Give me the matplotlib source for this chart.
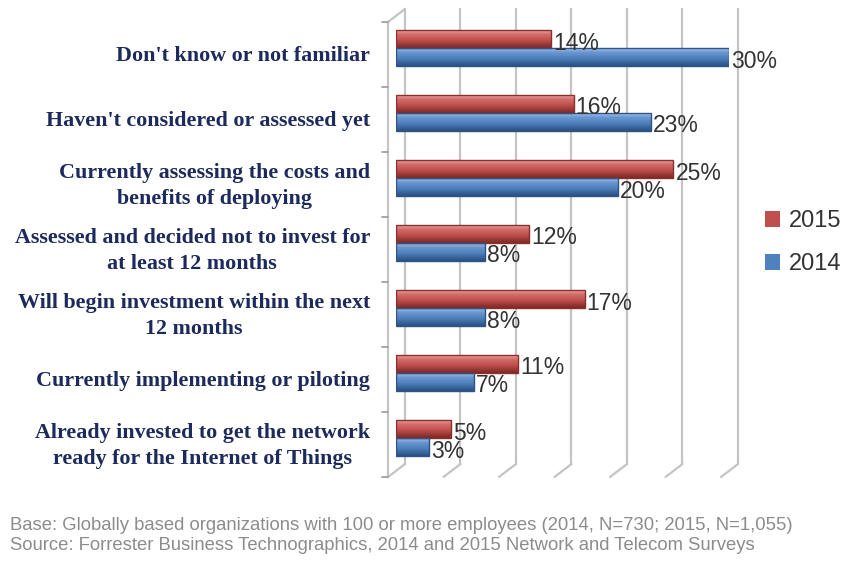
import matplotlib
matplotlib.use('Agg')
import matplotlib.pyplot as plt
import numpy as np
from matplotlib.transforms import ScaledTranslation
from matplotlib.patches import Patch
from matplotlib.colors import LinearSegmentedColormap

categories = [
    "Don't know or not familiar",
    "Haven't considered or assessed yet",
    "Currently assessing the costs and\nbenefits of deploying",
    "Assessed and decided not to invest for\nat least 12 months",
    "Will begin investment within the next\n12 months",
    "Currently implementing or piloting",
    "Already invested to get the network\nready for the Internet of Things",
]
values_2015 = [14, 16, 25, 12, 17, 11, 5]
values_2014 = [30, 23, 20, 8, 8, 7, 3]
series_labels = ["2015", "2014"]
grid_values = [0, 5, 10, 15, 20, 25, 30]
footer_lines = [
    "Base: Globally based organizations with 100 or more employees (2014, N=730; 2015, N=1,055)",
    "Source: Forrester Business Technographics, 2014 and 2015 Network and Telecom Surveys",
]

W, H, DPI = 845, 561, 100
fig = plt.figure(figsize=(W / DPI, H / DPI), dpi=DPI)
fig.patch.set_facecolor('white')

x0px, pxper, top_px, grp = 396, 11.1, 15.5, 65
ncat = len(categories)
ax = fig.add_axes([x0px / W, 1 - (top_px + ncat * grp) / H, 30 * pxper / W, ncat * grp / H])
ax.set_xlim(0, 30)
ax.set_ylim(ncat - 0.5, -0.5)
ax.axis('off')


def off(dx, dy):
    """offset in pixels; dy positive = downward"""
    return ax.transData + ScaledTranslation(dx / DPI, -dy / DPI, fig.dpi_scale_trans)


FRONT = (-8, 6.5)
BACK = (9, -6.5)
grid_col = '#c4c4c4'

# walls / gridlines
ylo, yhi = -0.5, ncat - 0.5
for v in grid_values:
    ax.plot([v, v], [ylo, yhi], color=grid_col, lw=1.6, transform=off(*BACK), clip_on=False, zorder=1)
    ax.annotate('', xy=(v, yhi), xycoords=off(*BACK), xytext=(v, yhi), textcoords=off(*FRONT),
                arrowprops=dict(arrowstyle='-', color=grid_col, lw=1.6, shrinkA=0, shrinkB=0), zorder=1)
ax.plot([0, 0], [ylo, yhi], color=grid_col, lw=1.6, transform=off(*FRONT), clip_on=False, zorder=1)
ax.annotate('', xy=(0, ylo), xycoords=off(*BACK), xytext=(0, ylo), textcoords=off(*FRONT),
            arrowprops=dict(arrowstyle='-', color=grid_col, lw=1.6, shrinkA=0, shrinkB=0), zorder=1)
for b in np.arange(ylo, yhi + 0.01, 1.0):
    ax.annotate('', xy=(0, b), xycoords=off(FRONT[0] - 6, FRONT[1]), xytext=(0, b), textcoords=off(*FRONT),
                arrowprops=dict(arrowstyle='-', color='#9a9a9a', lw=1.2, shrinkA=0, shrinkB=0))

# bars
y = np.arange(ncat)
h = 18 / grp
red, red_dark = '#c0504d', '#8a2f2c'
blue, blue_dark = '#4f81bd', '#2c5486'
cm_red = LinearSegmentedColormap.from_list('r', [(0, '#e9a7a5'), (0.22, '#d46e6b'), (0.55, '#c0504d'), (1, '#7d2825')])
cm_blue = LinearSegmentedColormap.from_list('b', [(0, '#aac5ea'), (0.22, '#6b98d2'), (0.55, '#4f81bd'), (1, '#2a5083')])

grad = np.linspace(0, 1, 64).reshape(-1, 1)
series = [(values_2015, y - h / 2, red, red_dark, cm_red), (values_2014, y + h / 2, blue, blue_dark, cm_blue)]
for vals, ys, col, dark, cm in series:
    bars = ax.barh(ys, vals, height=h, color=col, edgecolor='none', zorder=3)
    for p in bars.patches:
        bb = p.get_bbox()
        im = ax.imshow(grad, extent=(bb.x0, bb.x1, bb.y1, bb.y0), aspect='auto', cmap=cm,
                       origin='upper', zorder=4, interpolation='bilinear')
        im.set_clip_path(p)
    ax.barh(ys, vals, height=h, fill=False, edgecolor=dark, lw=1.0, zorder=5)
    for v, yy in zip(vals, ys):
        ax.text(v, yy, f"{v}%", transform=off(2, 4), ha='left', va='center',
                fontsize=16.5, family='Liberation Sans', color='#333333', zorder=6)

ax.set_xlim(0, 30)
ax.set_ylim(ncat - 0.5, -0.5)

# category labels
for i, lab in enumerate(categories):
    ax.text(0, i, lab, transform=off(-26, 8), ha='right', va='center', multialignment='center',
            fontsize=15.8, family='Liberation Serif', weight='bold', color='#1c2a5c', linespacing=1.35)

# legend
handles = [Patch(facecolor=red, edgecolor='none'), Patch(facecolor=blue, edgecolor='none')]
leg = fig.legend(handles, series_labels, loc='upper left', bbox_to_anchor=(765 / W, 1 - 210 / H),
                 frameon=False, prop={'family': 'Liberation Sans', 'size': 17},
                 handlelength=0.65, handleheight=0.65, handletextpad=0.35, labelspacing=0.9,
                 borderaxespad=0, borderpad=0)
for t in leg.get_texts():
    t.set_color('#333333')

# footer
fig.canvas.draw()
renderer = fig.canvas.get_renderer()
ft = fig.text(10 / W, 1 - 525 / H, footer_lines[0], ha='left', va='center', fontsize=10,
              family='Liberation Sans', color='#8c8c8c')
wpx = ft.get_window_extent(renderer).width
fs = 10 * 783 / wpx
ft.set_fontsize(fs)
fig.text(10 / W, 1 - 546 / H, footer_lines[1], ha='left', va='center', fontsize=fs,
         family='Liberation Sans', color='#8c8c8c')

fig.savefig('out.png', dpi=DPI, facecolor='white')
